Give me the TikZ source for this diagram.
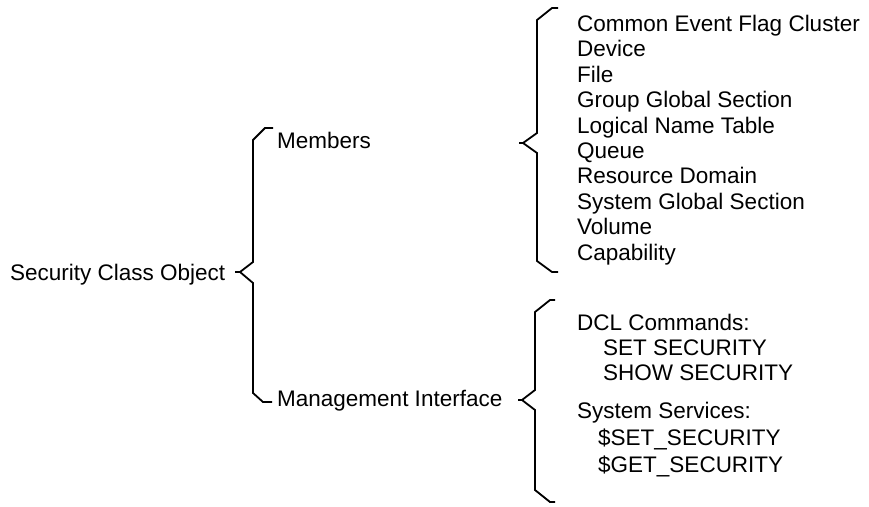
\documentclass[tikz,border=0pt]{standalone}
\usepackage{fontspec}
\setmainfont{Liberation Sans}

\begin{document}
\begin{tikzpicture}[x=1pt,y=-1pt]
\tikzstyle{every node}+=[inner sep=0pt, anchor=base west, font=\fontsize{22.5}{25}\selectfont]
\tikzstyle{brace}=[black, line width=1.8pt, line join=miter]
\useasboundingbox (0,0) rectangle (869,506);
% root and first level
\draw (10,280) node (root) {Security Class Object};
\draw (277,148) node (members) {Members};
\draw (277,406) node (mgmt) {Management Interface};
\draw [brace] (273,128) -- (265,128) -- (253,140) -- (253,262) -- (240,272) -- (253,283) -- (253,393) -- (263,402) -- (272,402);
\draw [brace] (240,272) -- (235,272);
% members list
\draw [brace] (558,8) -- (552,8) -- (537,20) -- (537,133) -- (523,143) -- (537,153) -- (537,261) -- (552,272) -- (558,272);
\draw [brace] (523,143) -- (519,143);
\draw (577,31) node (cefc) {Common Event Flag Cluster};
\draw (577,56) node (device) {Device};
\draw (577,82) node (file) {File};
\draw (577,107) node (ggs) {Group Global Section};
\draw (577,133) node (lnt) {Logical Name Table};
\draw (577,158) node (queue) {Queue};
\draw (577,183) node (resdom) {Resource Domain};
\draw (577,209) node (sgs) {System Global Section};
\draw (577,234) node (volume) {Volume};
\draw (577,260) node (capab) {Capability};
% management interface list
\draw [brace] (555,300) -- (550,300) -- (535,312) -- (535,390) -- (522,400) -- (535,410) -- (535,490) -- (550,502) -- (555,502);
\draw [brace] (522,400) -- (518,400);
\draw (577,330) node (dcl) {DCL Commands:};
\draw (603,355) node (setsec) {SET SECURITY};
\draw (603,380) node (showsec) {SHOW SECURITY};
\draw (577,418) node (sysserv) {System Services:};
\draw (598,445) node (ssetsec) {\$SET\_SECURITY};
\draw (598,472) node (sgetsec) {\$GET\_SECURITY};
\end{tikzpicture}
\end{document}
